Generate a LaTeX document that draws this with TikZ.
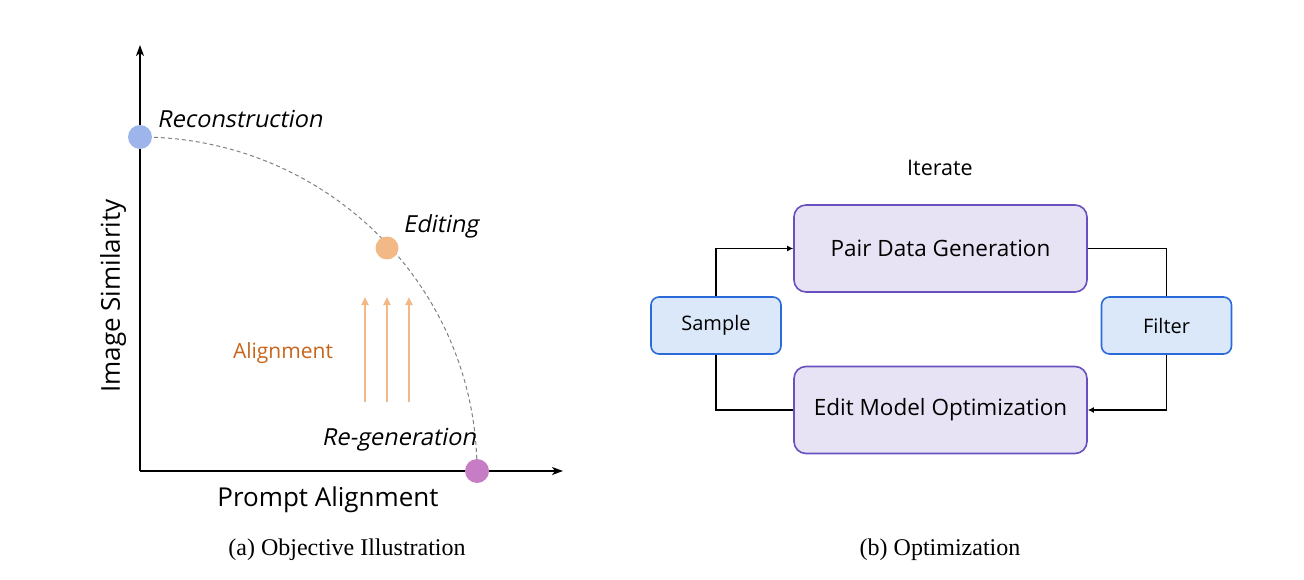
\documentclass[tikz,border=0pt]{standalone}
\usepackage{fontspec}
\setmainfont{Liberation Serif}
\newfontfamily\diagfont{Open Sans}
\newfontfamily\slantfont[FakeSlant=0.2]{Open Sans}
\usepackage{tikz}
\usetikzlibrary{positioning,arrows.meta,backgrounds}
\usepackage{xcolor}
\definecolor{dotblue}{HTML}{9DB5EA}
\definecolor{dotorange}{HTML}{F2B987}
\definecolor{dotpurple}{HTML}{C77DC6}
\definecolor{aligntext}{HTML}{C8651B}
\definecolor{stagefill}{HTML}{E8E3F4}
\definecolor{stageline}{HTML}{6A4FC0}
\definecolor{stepfill}{HTML}{DAE8FA}
\definecolor{stepline}{HTML}{2B6BD9}

\begin{document}
\begin{tikzpicture}[x=1pt, y=-1pt,
  dot/.style={circle, fill=#1, minimum size=24pt, inner sep=0pt},
  lbl/.style={font=\slantfont\fontsize{23.5}{27}\selectfont, inner sep=0pt},
  axlbl/.style={font=\diagfont\fontsize{26}{30}\selectfont, inner sep=0pt},
  subcap/.style={font=\fontsize{24}{28}\selectfont, inner sep=0pt},
  axis/.style={line width=1.6pt, -{Stealth[length=11pt, width=8pt, inset=3pt]}},
  push/.style={dotorange, line width=2pt, -{Triangle[length=8pt, width=7pt]}},
  stage/.style={draw=stageline, fill=stagefill, line width=1.6pt, rounded corners=12pt,
    minimum width=293pt, minimum height=87pt, font=\diagfont\fontsize{22.5}{26}\selectfont},
  stepbox/.style={draw=stepline, fill=stepfill, line width=1.6pt, rounded corners=8pt,
    minimum width=130pt, minimum height=57pt, font=\diagfont\fontsize{20}{24}\selectfont},
  link/.style={line width=1.3pt},
  arr/.style={link, -{Latex[length=6pt, width=6pt]}}]
\useasboundingbox (0,0) rectangle (1304,580);

% (a) objective
\coordinate (origin) at (140,471);
\coordinate (ytip) at (140,45);
\coordinate (xtip) at (563,471);
\draw[axis] (origin) -- (ytip);
\draw[axis] (origin) -- (xtip);
\node[dot=dotblue] (recon) at (140,137) {};
\node[dot=dotorange, minimum size=23pt] (edit) at (387,248) {};
\node[dot=dotpurple] (regen) at (477,471) {};
\begin{scope}[on background layer]
\draw[gray, line width=1pt, dash pattern=on 4pt off 3pt]
  (recon.center) arc[start angle=270, end angle=360, x radius=337, y radius=334];
\end{scope}
\node[lbl, anchor=west] (reconlbl) at (157,119) {Reconstruction};
\node[lbl, anchor=west] (editlbl) at (403,226) {Editing};
\node[lbl, anchor=east] (regenlbl) at (476,440) {Re-generation};
\foreach \x/\n in {365/a,387/b,409/c}{
  \coordinate (base\n) at (\x,402);
  \coordinate (tip\n) at (\x,297);
  \draw[push] (base\n) -- (tip\n);
}
\node[font=\diagfont\fontsize{21}{25}\selectfont, text=aligntext, inner sep=0pt] (alignlbl) at (283,353) {Alignment};
\node[axlbl, rotate=90] (ylbl) at (113,296) {Image Similarity};
\node[axlbl] (xlbl) at (328,500) {Prompt Alignment};
\node[subcap] (capa) at (347,550) {(a) Objective Illustration};

% (b) optimization
\node[stage] (pair) at (940.5,248.5) {Pair Data Generation};
\node[stage] (optim) at (940.5,410) {Edit Model Optimization};
\node[stepbox] (sample) at (716,325.5) {Sample};
\node[stepbox] (filter) at (1166.5,325.5) {Filter};
\node[font=\diagfont\fontsize{21.5}{25}\selectfont, inner sep=0pt] (iter) at (940,168) {Iterate};
\draw[arr] (sample.north) |- (pair.west);
\draw[link] (pair.east) -| (filter.north);
\draw[arr] (filter.south) |- (optim.east);
\draw[link] (optim.west) -| (sample.south);
\node[subcap] (capb) at (940,550) {(b) Optimization};
\end{tikzpicture}
\end{document}
